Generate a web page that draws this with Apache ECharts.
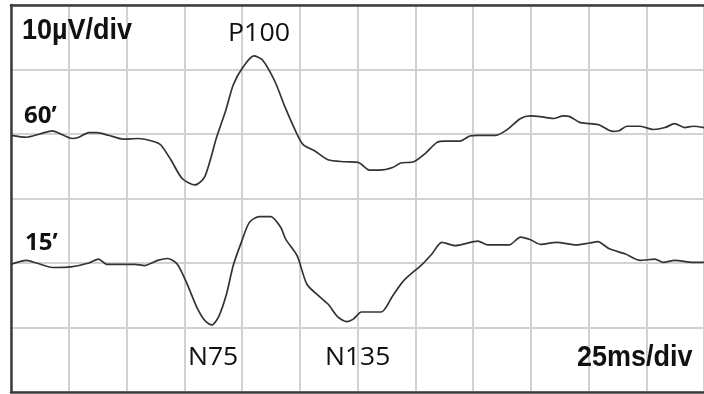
<!DOCTYPE html>
<html>
<head>
<meta charset="utf-8">
<script src="https://cdn.jsdelivr.net/npm/echarts@6/dist/echarts.min.js"></script>
<style>html,body{margin:0;padding:0;background:#fff}#c{width:704px;height:394px}</style>
</head>
<body>
<div id="c"></div>
<script>
// Time axis in ms (25 ms/div), amplitude in µV (10 µV/div)
const xTicks = [0, 25, 50, 75, 100, 125, 150, 175, 200, 225, 250, 275, 300];
const yTicks = [0, 10, 20, 30, 40, 50, 60];

const t60 = [0, 6.7, 12.4, 18.0, 20.9, 26.5, 29.4, 33.7, 37.2, 42.2, 48.6, 55.0, 62.1, 64.9, 69.2, 74.1, 79.7, 83.9, 89.1, 93.0, 96.2, 100.3, 105.1, 108.8, 114.3, 118.6, 123.8, 126.6, 131.4, 137.2, 144.4, 150.3, 155.2, 159.5, 165.2, 168.7, 174.4, 179.4, 184.4, 187.9, 194.3, 198.6, 202.1, 209.9, 214.9, 220.6, 224.9, 229.1, 234.8, 239.1, 241.9, 246.2, 250.4, 254.7, 260.4, 263.2, 266.7, 272.4, 278.1, 283.1, 287.3, 291.6, 295.3, 300];
const v60 = [39.8, 39.5, 40.0, 40.5, 40.1, 39.3, 39.5, 40.2, 40.2, 39.8, 39.2, 39.3, 38.8, 38.3, 36.0, 33.1, 32.1, 33.4, 39.6, 43.7, 47.6, 50.3, 52.1, 51.5, 48.1, 44.2, 40.0, 38.3, 37.4, 36.0, 35.7, 35.6, 34.4, 34.4, 34.8, 35.5, 35.7, 37.0, 38.7, 38.9, 38.9, 39.7, 39.8, 39.8, 40.7, 42.4, 42.8, 42.7, 42.4, 42.8, 42.7, 41.8, 41.6, 41.4, 40.4, 40.5, 41.2, 41.2, 40.7, 41.0, 41.6, 41.0, 41.2, 41.0];

const t15 = [0, 6.7, 11.0, 18.0, 25.9, 33.7, 37.9, 41.5, 53.6, 57.8, 63.5, 67.8, 72.0, 76.3, 80.5, 84.1, 86.9, 89.8, 93.3, 96.2, 99.7, 103.2, 107.5, 112.5, 116.8, 118.9, 123.9, 128.1, 133.8, 137.3, 141.6, 145.3, 148.2, 151.7, 160.2, 165.2, 170.1, 178.0, 182.2, 186.5, 192.2, 202.1, 206.4, 215.6, 220.6, 224.9, 229.1, 236.2, 244.7, 250.4, 254.0, 259.0, 266.0, 272.4, 278.8, 282.4, 287.3, 295.3, 300];
const v15 = [19.8, 20.4, 20.0, 19.3, 19.4, 20.0, 20.6, 19.8, 19.8, 19.6, 20.4, 20.7, 19.8, 16.7, 13.1, 11.0, 10.4, 11.6, 15.2, 19.6, 23.2, 26.3, 27.2, 27.2, 25.5, 23.7, 21.1, 16.7, 14.7, 13.6, 11.6, 10.9, 11.3, 12.4, 12.4, 14.9, 17.3, 19.8, 21.4, 23.2, 22.7, 23.4, 22.8, 22.8, 24.0, 23.6, 22.9, 23.2, 22.8, 23.1, 23.3, 22.2, 21.4, 20.4, 20.6, 20.1, 20.4, 20.1, 20.1];

const traceNames = ["60’", "15’"];
const peakLabels = ["P100", "N75", "N135"];
const scaleLabels = ["10µV/div", "25ms/div"];

const zip = (a, b) => a.map((x, i) => [x, b[i]]);

const chart = echarts.init(document.getElementById('c'), null, {renderer: 'canvas'});
const border = {show: true, lineStyle: {color: '#3c3c3c', width: 2.5}};
const split = {show: true, lineStyle: {color: '#d2d2d2', width: 2}};
const axisCommon = {axisTick: {show: false}, axisLabel: {show: false}};
const lineStyle = {color: '#333', width: 1.7};
const regular = {fontFamily: 'Open Sans', fontSize: 25, fill: '#111'};
const bold = {fontFamily: 'Liberation Sans', fontWeight: 'bold', fontSize: 30, fill: '#111'};
const boldO = {fontFamily: 'Open Sans', fontWeight: 'bold', fontSize: 24, fill: '#111'};

chart.setOption({
  animation: false,
  backgroundColor: '#fff',
  grid: {left: 11, top: 5, right: -11, bottom: 2, show: false},
  xAxis: [
    Object.assign({type: 'value', min: xTicks[0], max: xTicks[xTicks.length - 1], interval: 25, position: 'bottom', axisLine: border, splitLine: split}, axisCommon),
    Object.assign({type: 'value', min: xTicks[0], max: xTicks[xTicks.length - 1], interval: 25, position: 'top', axisLine: border, splitLine: {show: false}}, axisCommon)
  ],
  yAxis: Object.assign({type: 'value', min: yTicks[0], max: yTicks[yTicks.length - 1], interval: 10, axisLine: border, splitLine: split}, axisCommon),
  series: [
    {name: traceNames[0], type: 'line', data: zip(t60, v60), symbol: 'none', smooth: 0.25, lineStyle: lineStyle, z: 5},
    {name: traceNames[1], type: 'line', data: zip(t15, v15), symbol: 'none', smooth: 0.25, lineStyle: lineStyle, z: 5}
  ],
  graphic: [
    {type: 'text', left: 22, top: 16, scaleX: 0.9, style: Object.assign({text: scaleLabels[0]}, bold), z: 10},
    {type: 'text', left: 228, top: 21, scaleX: 1.07, style: Object.assign({text: peakLabels[0]}, regular), z: 10},
    {type: 'text', left: 24, top: 104, style: Object.assign({text: traceNames[0]}, boldO), z: 10},
    {type: 'text', left: 25, top: 231, style: Object.assign({text: traceNames[1]}, boldO), z: 10},
    {type: 'text', left: 188, top: 345, scaleX: 1.06, style: Object.assign({text: peakLabels[1]}, regular), z: 10},
    {type: 'text', left: 325, top: 345, scaleX: 1.06, style: Object.assign({text: peakLabels[2]}, regular), z: 10},
    {type: 'text', left: 577, top: 343, scaleX: 0.9, style: Object.assign({text: scaleLabels[1]}, bold), z: 10}
  ]
});
</script>
</body>
</html>
